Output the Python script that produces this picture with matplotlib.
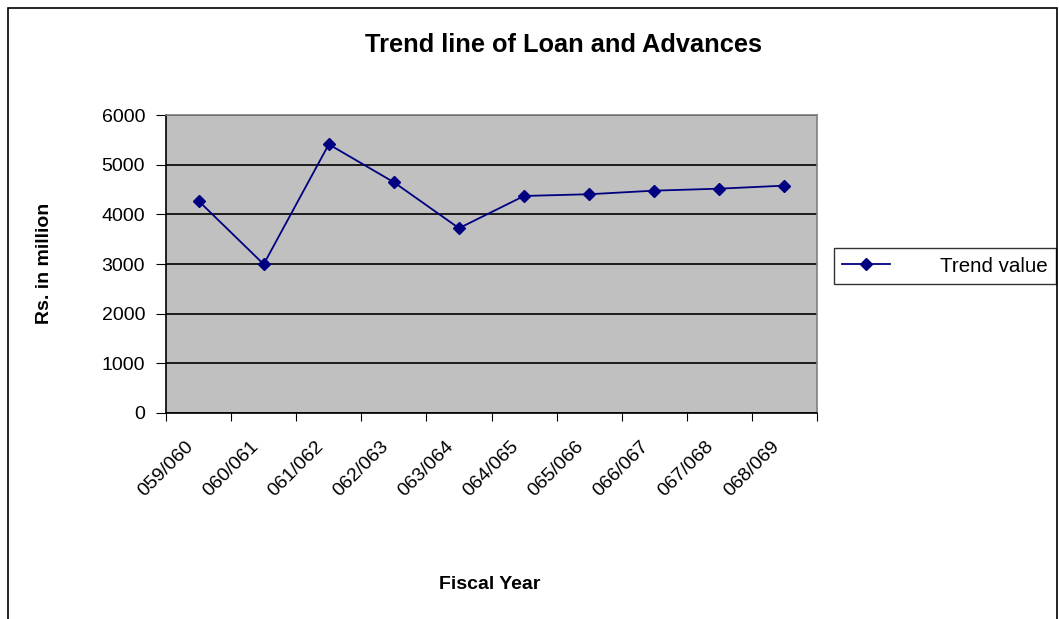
import numpy as np
import matplotlib.pyplot as plt
import matplotlib.transforms as mtransforms
from matplotlib.patches import Rectangle

plt.rcParams['font.family'] = ['Liberation Sans', 'DejaVu Sans']

years = ["059/060", "060/061", "061/062", "062/063", "063/064",
         "064/065", "065/066", "066/067", "067/068", "068/069"]
trend = [4270, 2995, 5410, 4646, 3721, 4370, 4405, 4477, 4517, 4578]

fig = plt.figure(figsize=(10.59, 6.19), dpi=100)
ax = fig.add_axes([0.1568, 0.3328, 0.6147, 0.4814])
ax.set_facecolor("#c0c0c0")

x = np.arange(len(years))
ax.plot(x, trend, color="#000080", lw=1.3, marker="D", ms=6.5,
        label="Trend value", zorder=3)

ax.set_ylim(0, 6000)
ax.set_yticks(np.arange(0, 6001, 1000))
ax.yaxis.grid(True, color="black", lw=1.2)
ax.set_axisbelow(True)

# category ticks sit between the points, labels under the points
ax.set_xlim(-0.5, len(years) - 0.5)
ax.set_xticks(np.arange(-0.5, len(years), 1))
ax.set_xticklabels([])
ax.set_xticks(x, minor=True)
ax.set_xticklabels(years, minor=True, rotation=45, ha="right",
                   rotation_mode="anchor", fontsize=14)
ax.tick_params(axis="x", which="minor", length=0, pad=18)
ax.tick_params(axis="x", which="major", length=6, direction="out")
ax.tick_params(axis="y", length=7, labelsize=14, pad=8, direction="out")
shift = mtransforms.ScaledTranslation(-14 / 100, 0, fig.dpi_scale_trans)
for lab in ax.get_xticklabels(minor=True):
    lab.set_transform(lab.get_transform() + shift)

for s in ["left", "bottom"]:
    ax.spines[s].set_color("black")
    ax.spines[s].set_linewidth(1.2)
for s in ["top", "right"]:
    ax.spines[s].set_color("#808080")
    ax.spines[s].set_linewidth(1.2)

fig.text(0.532, 0.928, "Trend line of Loan and Advances", ha="center",
         va="center", fontsize=18.3, fontweight="bold")
fig.text(0.042, 0.575, "Rs. in million", rotation=90, ha="center",
         va="center", fontsize=14, fontweight="bold")
fig.text(0.462, 0.055, "Fiscal Year", ha="center", va="center",
         fontsize=14, fontweight="bold")

leg = ax.legend(loc="center left", fontsize=14.8,
                frameon=True, fancybox=False, edgecolor="black",
                borderaxespad=0, handlelength=2.3, handletextpad=2.45)
leg.get_frame().set_linewidth(1.0)
leg.set_bbox_to_anchor((834 / 1059, 1 - 266 / 619), transform=fig.transFigure)

fig.patches.append(Rectangle((8 / 1059, -0.01), 1049 / 1059, 1 - 8 / 619 + 0.01,
                             transform=fig.transFigure, fill=False,
                             edgecolor="black", lw=1.2))

plt.savefig("out.png", dpi=100)
